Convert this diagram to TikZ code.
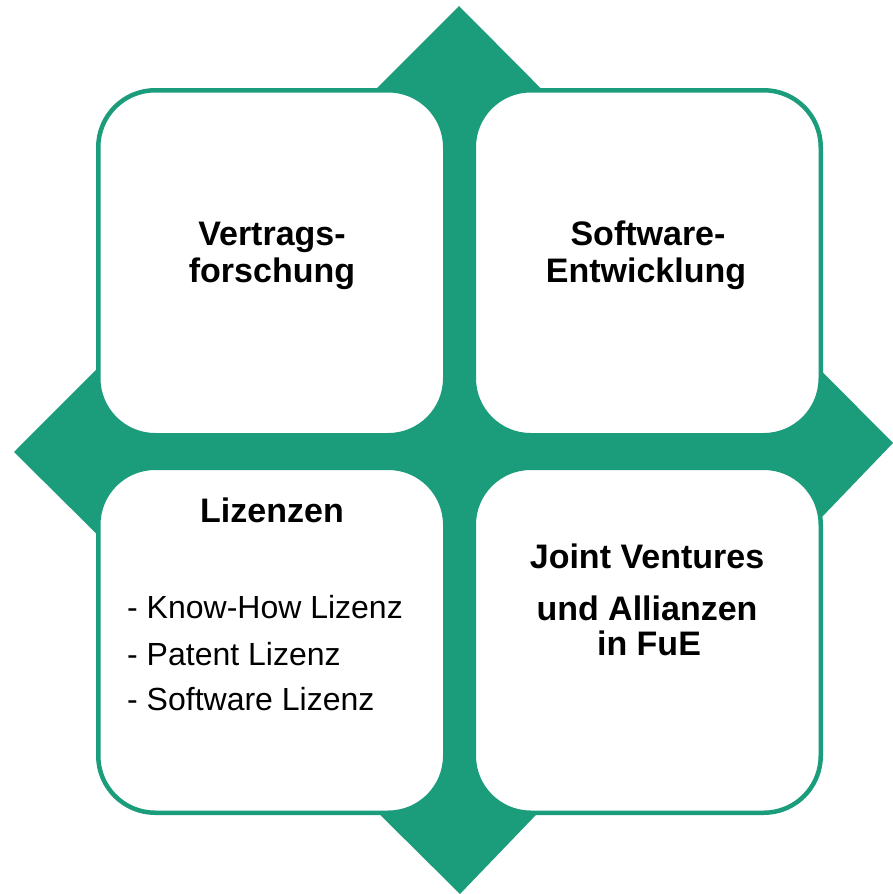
\documentclass[tikz,border=0pt]{standalone}
\usepackage{fontspec}
\setmainfont{Liberation Sans}
\definecolor{tgreen}{RGB}{27,157,124}
\begin{document}
\begin{tikzpicture}[x=1pt,y=-1pt,
  card/.style={draw=tgreen,fill=white,line width=4.5pt,rounded corners=57pt},
  head/.style={anchor=base,font=\bfseries\fontsize{34}{40}\selectfont,inner sep=0pt},
  item/.style={anchor=base west,font=\fontsize{32}{38}\selectfont,inner sep=0pt}]
\useasboundingbox (0,0) rectangle (892,894);
\fill[tgreen] (459,6) -- (893,443) -- (460,894) -- (14,452) -- cycle;
\draw[card] (98.25,90.25) rectangle (445.25,435.25);
\draw[card] (473.75,90.25) rectangle (820.75,435.25);
\draw[card] (98.25,467.75) rectangle (445.25,812.75);
\draw[card] (473.75,467.75) rectangle (820.75,812.75);
\node[head] (t1) at (272,245) {Vertrags-};
\node[head] (t2) at (272,282) {forschung};
\node[head] (s1) at (648,245) {Software-};
\node[head] (s2) at (646,282) {Entwicklung};
\node[head] (l0) at (272,522) {Lizenzen};
\node[item] (l1) at (127,618) {- Know-How Lizenz};
\node[item] (l2) at (127,665) {- Patent Lizenz};
\node[item] (l3) at (127,710) {- Software Lizenz};
\node[head] (j1) at (647,568) {Joint Ventures};
\node[head] (j2) at (647,620) {und Allianzen};
\node[head] (j3) at (649,655) {in FuE};
\end{tikzpicture}
\end{document}
